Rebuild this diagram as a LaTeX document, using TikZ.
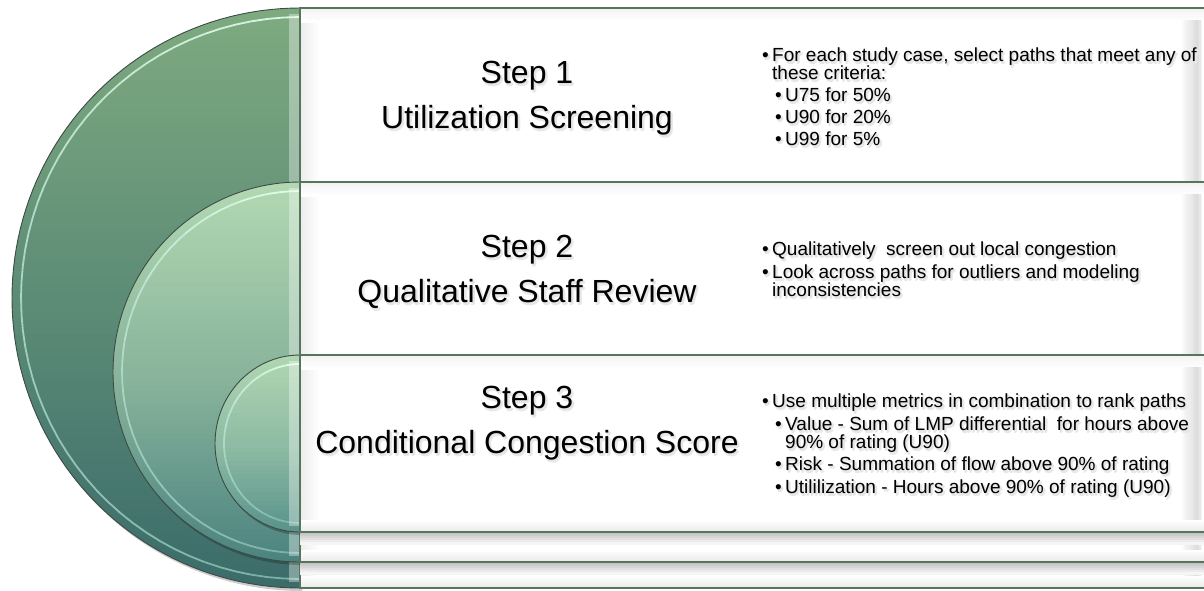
\documentclass[tikz,border=0pt]{standalone}
\usepackage{fontspec}
\setmainfont{Liberation Sans}
\definecolor{edgec}{HTML}{3F4A45}
\definecolor{panelc}{HTML}{56765C}
\definecolor{rimtop}{HTML}{E2FFEA}
\definecolor{rimbot}{HTML}{80B8AC}
\definecolor{oA}{HTML}{7EAA80}
\definecolor{oB}{HTML}{5D8C76}
\definecolor{oC}{HTML}{3B6C6A}
\definecolor{mA}{HTML}{B2D8B2}
\definecolor{mB}{HTML}{8AB59C}
\definecolor{mC}{HTML}{4C8480}
\definecolor{iA}{HTML}{B0D6B2}
\definecolor{iB}{HTML}{8FBCA4}
\definecolor{iC}{HTML}{5A948C}
\newcommand\tsh[1]{\makebox[0pt][l]{\hspace{1.5pt}\raisebox{-3pt}{\color{black!9}#1}}\makebox[0pt][l]{\hspace{2.5pt}\raisebox{-2pt}{\color{black!9}#1}}\makebox[0pt][l]{\hspace{1pt}\raisebox{-1.5pt}{\color{black!11}#1}}#1}
\begin{document}
\begin{tikzpicture}[x=1pt, y=-1pt,
  title/.style={anchor=base, inner sep=0pt, font=\fontsize{32}{38}\selectfont},
  bl/.style={anchor=base west, inner sep=0pt, font=\fontsize{19}{22}\selectfont},
  edge/.style={edgec, line width=0.9pt},
  rim/.style={line width=1.8pt, opacity=0.9},
  panelline/.style={panelc, line width=1.4pt}]
\useasboundingbox (0,0) rectangle (1204,590);
\clip (0,0) rectangle (1204,590);
% ---------- layer 1 (outer): top 8, bottom 588, cy 298, rx 288, ry 290
\fill[black, opacity=0.2] plot[domain=-90:-270, samples=91] ({302+288*cos(\x)}, {301+290*sin(\x)}) -- cycle;
\begin{scope}
\clip plot[domain=-90:-270, samples=91] ({300+288*cos(\x)}, {298+290*sin(\x)}) -- cycle;
\foreach \k in {0,...,39} {\fill[oA!\the\numexpr100-\k*100/39\relax!oB] (0,{8+\k*7.25}) rectangle (301,{8+\k*7.25+7.8});}
\foreach \k in {0,...,39} {\fill[oB!\the\numexpr100-\k*100/39\relax!oC] (0,{298+\k*7.25}) rectangle (301,{298+\k*7.25+7.8});}
\end{scope}
\draw[edge] plot[domain=-90:-270, samples=91] ({300+288*cos(\x)}, {298+290*sin(\x)}) -- cycle;
\foreach \k in {0,...,17} {\draw[rim, color=rimtop!\the\numexpr100-\k*100/17\relax!rimbot] plot[domain={-90-10*\k}:{-100-10*\k}, samples=4] ({300+279*cos(\x)}, {298+281*sin(\x)});}
\fill[white, opacity=0.35] (289,14) rectangle (299,582);
\fill[white] (300,8) rectangle (1215,588);
\foreach \k in {0,...,7} {\fill[black!\the\numexpr7-\k\relax] ({300+\k*2.5},8) rectangle ({303+\k*2.5},588);}
\foreach \k in {0,...,6} {\fill[black!\the\numexpr5-\k*5/6\relax] (300,{8+\k*2}) rectangle (1215,{10.5+\k*2});}
\foreach \k in {0,...,5} {\fill[black!\the\numexpr\k*8/5\relax] (300,{576+\k*2}) rectangle (1215,{578.5+\k*2});}
\foreach \k in {0,...,7} {\fill[black!\the\numexpr\k*13/7\relax] ({1180+\k*2.1},20) rectangle ({1182.6+\k*2.1},576);}
\foreach \k in {0,...,3} {\fill[black!\the\numexpr13-\k*13/3\relax] ({1197+\k*1.8},20) rectangle ({1199.3+\k*1.8},576);}
\draw[panelline] (1215,8) -- (300,8) -- (300,588) -- (1215,588);
% ---------- layer 2 (middle): top 182, bottom 562, cy 372, rx 187, ry 190
\fill[black, opacity=0.22] plot[domain=-90:-270, samples=91] ({302+187*cos(\x)}, {375+190*sin(\x)}) -- cycle;
\begin{scope}
\clip plot[domain=-90:-270, samples=91] ({300+187*cos(\x)}, {372+190*sin(\x)}) -- cycle;
\foreach \k in {0,...,39} {\fill[mA!\the\numexpr100-\k*100/39\relax!mB] (0,{182+\k*4.75}) rectangle (301,{182+\k*4.75+5.3});}
\foreach \k in {0,...,39} {\fill[mB!\the\numexpr100-\k*100/39\relax!mC] (0,{372+\k*4.75}) rectangle (301,{372+\k*4.75+5.3});}
\end{scope}
\draw[edge] plot[domain=-90:-270, samples=91] ({300+187*cos(\x)}, {372+190*sin(\x)}) -- cycle;
\foreach \k in {0,...,17} {\draw[rim, color=rimtop!\the\numexpr100-\k*100/17\relax!rimbot] plot[domain={-90-10*\k}:{-100-10*\k}, samples=4] ({300+178*cos(\x)}, {372+181*sin(\x)});}
\fill[white, opacity=0.35] (289,188) rectangle (299,556);
\foreach \k in {0,...,5} {\fill[black!\the\numexpr24-\k*4\relax] (300,{562+\k*2}) rectangle (1215,{564.5+\k*2});}
\fill[white] (300,182) rectangle (1215,562);
\foreach \k in {0,...,7} {\fill[black!\the\numexpr7-\k\relax] ({300+\k*2.5},182) rectangle ({303+\k*2.5},562);}
\foreach \k in {0,...,6} {\fill[black!\the\numexpr5-\k*5/6\relax] (300,{182+\k*2}) rectangle (1215,{184.5+\k*2});}
\foreach \k in {0,...,5} {\fill[black!\the\numexpr\k*8/5\relax] (300,{550+\k*2}) rectangle (1215,{552.5+\k*2});}
\foreach \k in {0,...,7} {\fill[black!\the\numexpr\k*13/7\relax] ({1180+\k*2.1},194) rectangle ({1182.6+\k*2.1},550);}
\foreach \k in {0,...,3} {\fill[black!\the\numexpr13-\k*13/3\relax] ({1197+\k*1.8},194) rectangle ({1199.3+\k*1.8},550);}
\draw[panelline] (1215,182) -- (300,182) -- (300,562) -- (1215,562);
% ---------- layer 3 (inner): top 355, bottom 532, cy 443.5, rx 85, ry 88.5
\fill[black, opacity=0.25] plot[domain=-90:-270, samples=61] ({302+85*cos(\x)}, {446.5+88.5*sin(\x)}) -- cycle;
\begin{scope}
\clip plot[domain=-90:-270, samples=61] ({300+85*cos(\x)}, {443.5+88.5*sin(\x)}) -- cycle;
\foreach \k in {0,...,19} {\fill[iA!\the\numexpr100-\k*100/19\relax!iB] (0,{355+\k*4.425}) rectangle (301,{355+\k*4.425+5});}
\foreach \k in {0,...,19} {\fill[iB!\the\numexpr100-\k*100/19\relax!iC] (0,{443.5+\k*4.425}) rectangle (301,{443.5+\k*4.425+5});}
\end{scope}
\draw[edge] plot[domain=-90:-270, samples=61] ({300+85*cos(\x)}, {443.5+88.5*sin(\x)}) -- cycle;
\foreach \k in {0,...,17} {\draw[rim, color=rimtop!\the\numexpr100-\k*100/17\relax!rimbot] plot[domain={-90-10*\k}:{-100-10*\k}, samples=4] ({300+76*cos(\x)}, {443.5+79.5*sin(\x)});}
\fill[white, opacity=0.35] (289,361) rectangle (299,526);
\foreach \k in {0,...,5} {\fill[black!\the\numexpr24-\k*4\relax] (300,{532+\k*2}) rectangle (1215,{534.5+\k*2});}
\fill[white] (300,355) rectangle (1215,532);
\foreach \k in {0,...,7} {\fill[black!\the\numexpr7-\k\relax] ({300+\k*2.5},355) rectangle ({303+\k*2.5},532);}
\foreach \k in {0,...,6} {\fill[black!\the\numexpr5-\k*5/6\relax] (300,{355+\k*2}) rectangle (1215,{357.5+\k*2});}
\foreach \k in {0,...,5} {\fill[black!\the\numexpr\k*8/5\relax] (300,{520+\k*2}) rectangle (1215,{522.5+\k*2});}
\foreach \k in {0,...,7} {\fill[black!\the\numexpr\k*13/7\relax] ({1180+\k*2.1},367) rectangle ({1182.6+\k*2.1},520);}
\foreach \k in {0,...,3} {\fill[black!\the\numexpr13-\k*13/3\relax] ({1197+\k*1.8},367) rectangle ({1199.3+\k*1.8},520);}
\draw[panelline] (1215,355) -- (300,355) -- (300,532) -- (1215,532);
% ---------- texts
\node[title] (s1a) at (527,83) {\tsh{Step 1}};
\node[title] (s1b) at (527,128) {\tsh{Utilization Screening}};
\node[title] (s2a) at (527,257) {\tsh{Step 2}};
\node[title] (s2b) at (527,302) {\tsh{Qualitative Staff Review}};
\node[title] (s3a) at (527,408) {\tsh{Step 3}};
\node[title] (s3b) at (527,453) {\tsh{Conditional Congestion Score}};
\node[bl] (b11) at (762,61) {\tsh{\makebox[10pt][l]{•}For each study case, select paths that meet any of}};
\node[bl] (b12) at (772,79) {\tsh{these criteria:}};
\node[bl] (b13) at (775,101) {\tsh{\makebox[10pt][l]{•}U75 for 50\%}};
\node[bl] (b14) at (775,123) {\tsh{\makebox[10pt][l]{•}U90 for 20\%}};
\node[bl] (b15) at (775,145) {\tsh{\makebox[10pt][l]{•}U99 for 5\%}};
\node[bl] (b21) at (762,255) {\tsh{\makebox[10pt][l]{•}Qualitatively\ \ screen out local congestion}};
\node[bl] (b22) at (762,278) {\tsh{\makebox[10pt][l]{•}Look across paths for outliers and modeling}};
\node[bl] (b23) at (772,296) {\tsh{inconsistencies}};
\node[bl] (b31) at (762,407) {\tsh{\makebox[10pt][l]{•}Use multiple metrics in combination to rank paths}};
\node[bl] (b32) at (775,430) {\tsh{\makebox[10pt][l]{•}Value - Sum of LMP differential\ \ for hours above}};
\node[bl] (b33) at (785,448) {\tsh{90\% of rating (U90)}};
\node[bl] (b34) at (775,470) {\tsh{\makebox[10pt][l]{•}Risk - Summation of flow above 90\% of rating}};
\node[bl] (b35) at (775,493) {\tsh{\makebox[10pt][l]{•}Utililization - Hours above 90\% of rating (U90)}};
\end{tikzpicture}
\end{document}
